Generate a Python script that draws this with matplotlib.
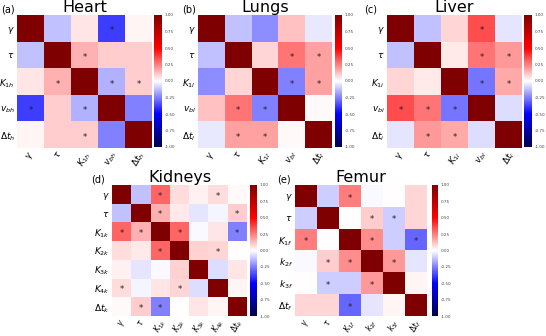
import numpy as np
from matplotlib import pyplot as plt

W, H = 546, 336

heart_labels = [r'$\gamma$', r'$\tau$', r'$K_{1h}$', r'$v_{bh}$', r'$\Delta t_h$']
heart_vals = [[1.00, -0.12, 0.05, -0.38, 0.02],
              [-0.12, 1.00, 0.15, 0.10, 0.10],
              [0.05, 0.15, 1.00, -0.15, 0.10],
              [-0.38, 0.10, -0.15, 1.00, -0.25],
              [0.02, 0.10, 0.10, -0.25, 1.00]]
heart_sig = [(0, 3), (1, 2), (2, 3), (2, 4)]

lungs_labels = [r'$\gamma$', r'$\tau$', r'$K_{1l}$', r'$v_{bl}$', r'$\Delta t_l$']
lungs_vals = [[1.00, -0.12, -0.22, 0.12, -0.04],
              [-0.12, 1.00, 0.08, 0.27, 0.18],
              [-0.22, 0.08, 1.00, -0.25, 0.18],
              [0.12, 0.27, -0.25, 1.00, 0.01],
              [-0.04, 0.18, 0.18, 0.01, 1.00]]
lungs_sig = [(1, 3), (1, 4), (2, 3), (2, 4)]

liver_labels = [r'$\gamma$', r'$\tau$', r'$K_{1i}$', r'$v_{bi}$', r'$\Delta t_i$']
liver_vals = [[1.00, -0.12, 0.08, 0.35, -0.05],
              [-0.12, 1.00, 0.04, 0.27, 0.20],
              [0.08, 0.04, 1.00, -0.27, 0.17],
              [0.35, 0.27, -0.27, 1.00, -0.07],
              [-0.05, 0.20, 0.17, -0.07, 1.00]]
liver_sig = [(0, 3), (1, 3), (1, 4), (2, 3), (2, 4)]

kid_labels = [r'$\gamma$', r'$\tau$', r'$K_{1k}$', r'$K_{2k}$', r'$K_{3k}$', r'$K_{4k}$', r'$\Delta t_k$']
kid_vals = [[1.00, -0.12, 0.30, 0.07, 0.03, 0.07, 0.01],
            [-0.12, 1.00, 0.15, 0.04, -0.05, -0.02, 0.10],
            [0.30, 0.15, 1.00, 0.30, -0.01, 0.05, -0.25],
            [0.07, 0.04, 0.30, 1.00, 0.09, 0.08, 0.00],
            [0.03, -0.05, -0.01, 0.09, 1.00, -0.07, 0.05],
            [0.07, -0.02, 0.05, 0.08, -0.07, 1.00, 0.02],
            [0.01, 0.10, -0.25, 0.00, 0.05, 0.02, 1.00]]
kid_sig = [(0, 2), (0, 5), (1, 2), (1, 6), (2, 3), (2, 6), (3, 5)]

fem_labels = [r'$\gamma$', r'$\tau$', r'$K_{1f}$', r'$k_{2f}$', r'$k_{3f}$', r'$\Delta t_f$']
fem_vals = [[1.00, -0.10, 0.25, -0.01, 0.00, 0.08],
            [-0.10, 1.00, 0.00, 0.10, -0.10, 0.08],
            [0.25, 0.00, 1.00, 0.22, -0.10, -0.30],
            [-0.01, 0.10, 0.22, 1.00, 0.20, -0.05],
            [0.00, -0.10, -0.10, 0.20, 1.00, 0.02],
            [0.08, 0.08, -0.30, -0.05, 0.02, 1.00]]
fem_sig = [(0, 2), (1, 3), (1, 4), (2, 3), (2, 5), (3, 4)]

cbar_ticks = [-1.0, -0.75, -0.5, -0.25, 0.0, 0.25, 0.5, 0.75, 1.0]


def box(x0, y0, x1, y1):
    return [x0 / W, 1 - y1 / H, (x1 - x0) / W, (y1 - y0) / H]


def panel(fig, hm, cb, vals, labels, sig, title, tag, tagpos, fs):
    ax = fig.add_axes(box(*hm))
    cax = fig.add_axes(box(*cb))
    im = ax.imshow(np.array(vals), cmap='seismic', vmin=-1, vmax=1, aspect='auto')
    n = len(labels)
    for i, j in sig:
        for r, c in [(i, j), (j, i)]:
            ax.text(c, r + 0.1, '*', ha='center', va='center', fontsize=6, color='#222222')
    ax.set_xticks(range(n))
    ax.set_yticks(range(n))
    ax.set_xticklabels(labels, rotation=60, fontsize=fs)
    ax.set_yticklabels(labels, fontsize=6.5)
    ax.tick_params(axis='x', length=0, pad=1)
    ax.tick_params(axis='y', length=0, pad=1.5)
    for s in ax.spines.values():
        s.set_visible(False)
    ax.set_title(title, fontsize=11.5, pad=0)
    cbar = fig.colorbar(im, cax=cax, ticks=cbar_ticks)
    cbar.outline.set_visible(False)
    cbar.ax.tick_params(labelsize=3, length=0, pad=2, colors='#444444')
    cbar.ax.set_yticklabels(['%.2f' % t for t in cbar_ticks])
    fig.text(tagpos[0] / W, 1 - tagpos[1] / H, tag, fontsize=7, va='center')


fig = plt.figure(figsize=(W / 100, H / 100), dpi=100)

panel(fig, (17, 15, 152, 148), (154, 15, 162, 147), heart_vals, heart_labels, heart_sig, 'Heart', '(a)', (1, 9), 6.5)
panel(fig, (198, 15, 332, 148), (335, 15, 342, 147), lungs_vals, lungs_labels, lungs_sig, 'Lungs', '(b)', (182, 9), 6.5)
panel(fig, (387, 15, 522, 148), (524, 15, 532, 147), liver_vals, liver_labels, liver_sig, 'Liver', '(c)', (364, 9), 6.5)
panel(fig, (112, 185, 247, 316), (250, 185, 257, 316), kid_vals, kid_labels, kid_sig, 'Kidneys', '(d)', (91, 179), 5.5)
panel(fig, (295, 185, 427, 316), (432, 185, 438, 316), fem_vals, fem_labels, fem_sig, 'Femur', '(e)', (277, 179), 5.5)

fig.savefig('out.png', dpi=100)
